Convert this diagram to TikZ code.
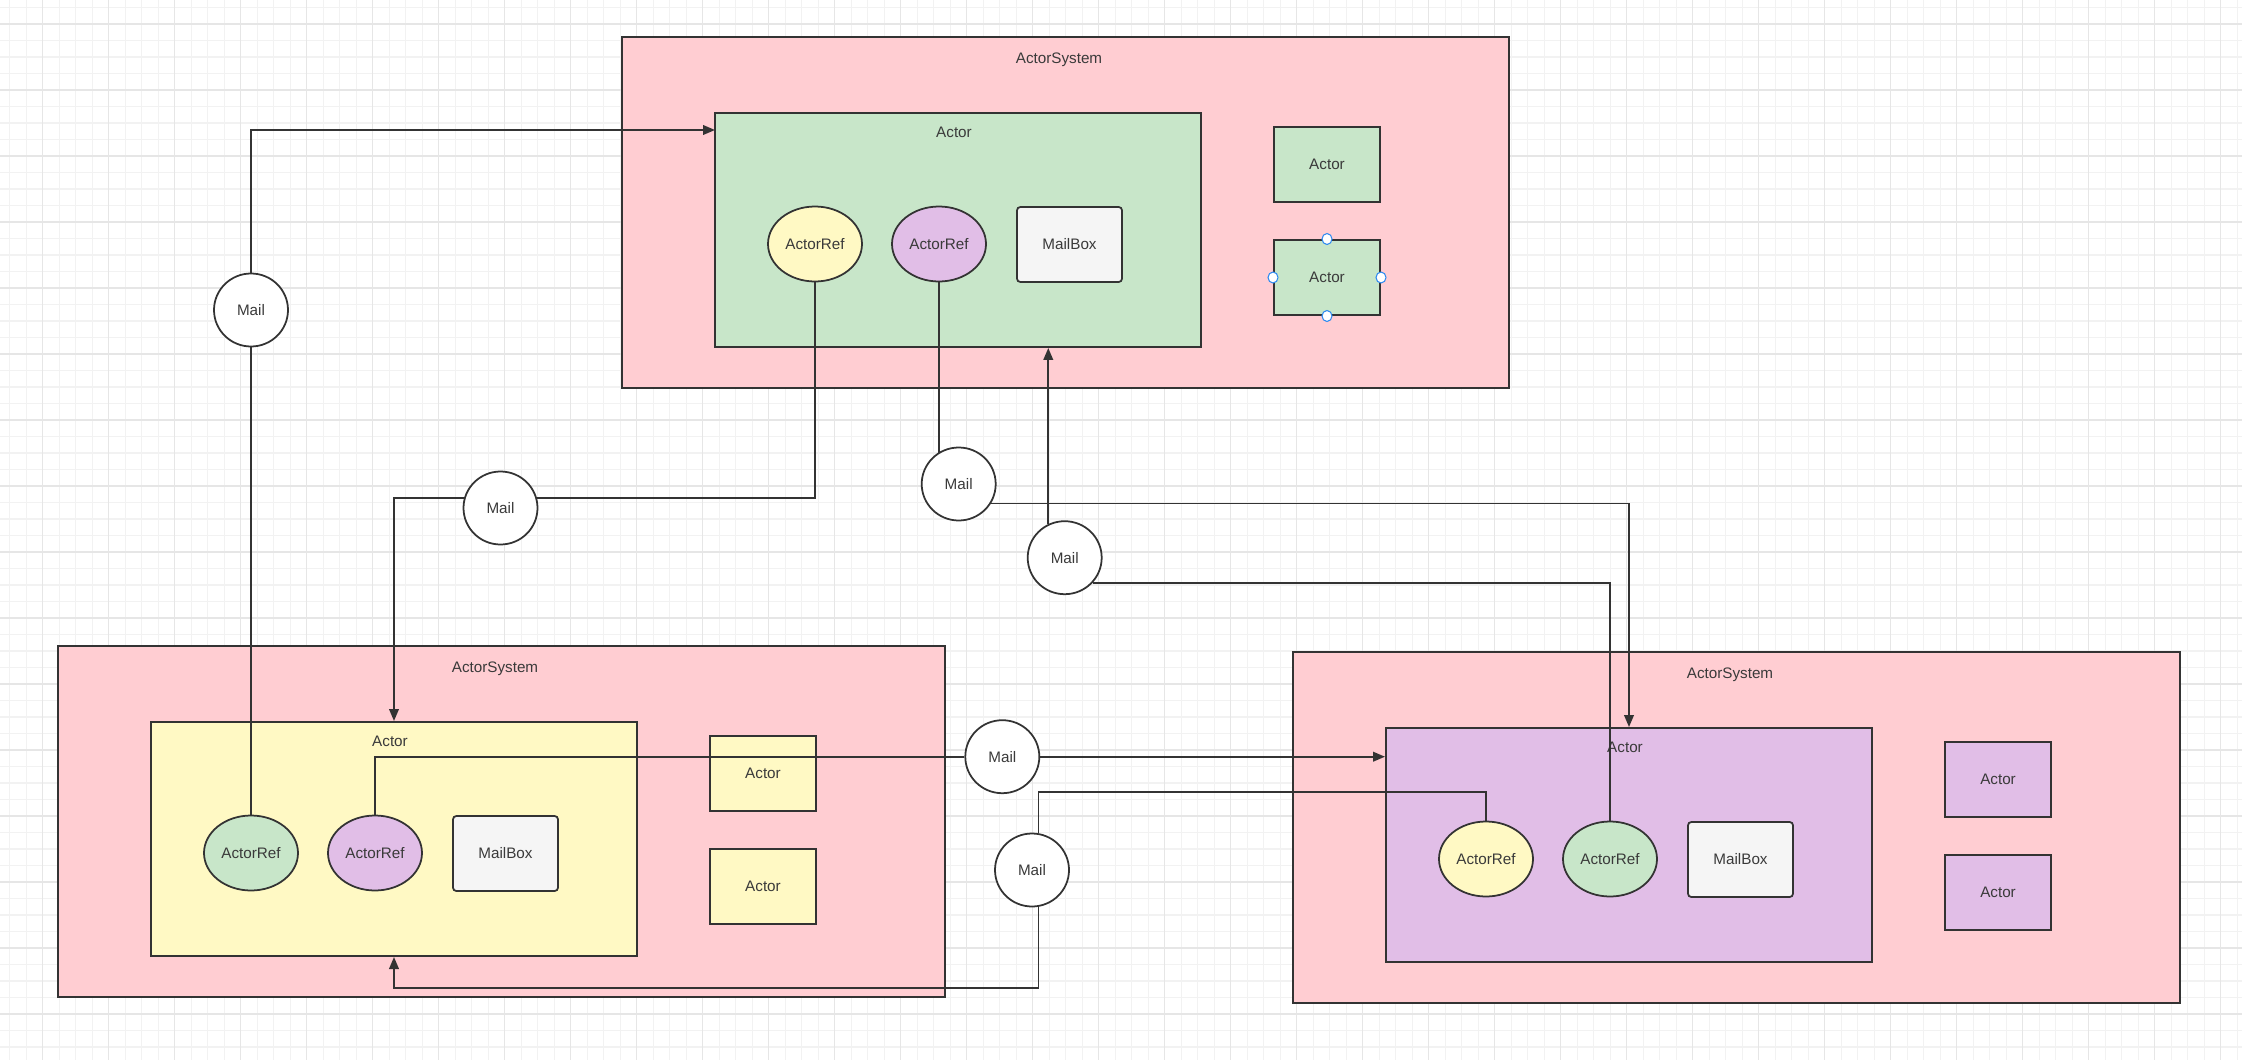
\documentclass[tikz,border=0pt]{standalone}
\usepackage{fontspec}
\setmainfont{Liberation Sans}
\usepackage{xcolor}
\usepackage{tikz}
\usetikzlibrary{arrows.meta,shapes.geometric}
\definecolor{edge}      {HTML}{333333}
\definecolor{ink}       {HTML}{3A3A3A}
\definecolor{sysfill}   {HTML}{FFCDD2}
\definecolor{greenfill} {HTML}{C8E6C9}
\definecolor{yellowfill}{HTML}{FFF9C4}
\definecolor{purplefill}{HTML}{E1BEE7}
\definecolor{boxfill}   {HTML}{F5F5F5}
\definecolor{gridminor} {HTML}{F2F2F2}
\definecolor{gridmajor} {HTML}{E6E6E6}
\definecolor{handle}    {HTML}{2F8AF0}

\begin{document}
\begin{tikzpicture}[x=0.3mm,y=-0.3mm,font=\fontsize{13}{15}\selectfont,
  txt/.style={text=ink,inner sep=0pt},
  sysbox/.style={draw=edge,line width=1.7pt,fill=sysfill,inner sep=0pt,
    minimum width=887*\unitpx,minimum height=351*\unitpx},
  actbox/.style={draw=edge,line width=1.7pt,inner sep=0pt,
    minimum width=486*\unitpx,minimum height=234*\unitpx},
  smallact/.style={draw=edge,line width=1.7pt,text=ink,inner sep=0pt,
    minimum width=106*\unitpx,minimum height=75*\unitpx},
  refnode/.style={ellipse,draw=edge,line width=1.5pt,text=ink,inner sep=0pt,
    minimum width=94*\unitpx,minimum height=75*\unitpx},
  mailbox/.style={draw=edge,line width=1.5pt,fill=boxfill,text=ink,inner sep=0pt,
    rounded corners=1mm,minimum width=105*\unitpx,minimum height=75*\unitpx},
  mail/.style={ellipse,draw=edge,line width=1.5pt,fill=white,text=ink,inner sep=0pt,
    minimum width=74*\unitpx,minimum height=73*\unitpx},
  handlept/.style={ellipse,draw=handle,line width=0.9pt,fill=white,inner sep=0pt,
    minimum width=10*\unitpx,minimum height=11*\unitpx},
  conn/.style={draw=edge,line width=1.5pt},
  tip/.style={conn,-{Triangle[length=3.6mm,width=2.9mm]}}]
  \def\unitpx{0.3mm}
  \def\system#1#2#3#4#5#6{%
    \node[sysbox] (#1sys) at (#2+443.5,#3+175.5) {};
    \node[txt] (#1syslbl) at (#2+437,#3+23) {ActorSystem};
    \node[actbox,fill=#4] (#1act) at (#2+336,#3+193) {};
    \node[txt] (#1actlbl) at (#2+332,#3+95) {Actor};
    \node[refnode,fill=#5] (#1ref1) at (#2+193,#3+207) {ActorRef};
    \node[refnode,fill=#6] (#1ref2) at (#2+317,#3+207) {ActorRef};
    \node[mailbox] (#1box) at (#2+447.5,#3+207.5) {MailBox};
    \node[smallact,fill=#4] (#1a1) at (#2+705,#3+127.5) {Actor};
    \node[smallact,fill=#4] (#1a2) at (#2+705,#3+240.5) {Actor};}

  \fill[white] (0,0) rectangle (2242,1060);
  \useasboundingbox (0,0) rectangle (2242,1060);
  \foreach \i in {0,...,135}{\draw[gridminor,line width=0.9pt] ({9.7+16.5*\i},0) -- ++(0,1060);}
  \foreach \j in {0,...,63}{\draw[gridminor,line width=0.9pt] (0,{7.5+16.5*\j}) -- ++(2242,0);}
  \foreach \i in {0,...,33}{\draw[gridmajor,line width=1pt] ({42.7+66*\i},0) -- ++(0,1060);}
  \foreach \j in {0,...,15}{\draw[gridmajor,line width=1pt] (0,{24+66*\j}) -- ++(2242,0);}

  \system{t}{622}{37}{greenfill}{yellowfill}{purplefill}
  \system{bl}{58}{646}{yellowfill}{greenfill}{purplefill}
  \system{br}{1293}{652}{purplefill}{yellowfill}{greenfill}
  \foreach \a in {north,south,east,west}{\node[handlept] (th\a) at (ta2.\a) {};}

  \node[mail] (m1) at (251,310) {Mail};
  \node[mail] (m2) at (500.5,508) {Mail};
  \node[mail] (m3) at (958.7,484) {Mail};
  \node[mail] (m4) at (1064.7,557.7) {Mail};
  \node[mail] (m5) at (1002.3,756.7) {Mail};
  \node[mail] (m6) at (1032,870) {Mail};
  \coordinate (tin) at (715,130);

  \draw[conn] (blref1.north) -- (m1.south);
  \draw[tip] (m1.north) |- (tin);
  \draw[conn] (tref1.south) |- (m2.15);
  \draw[tip] (m2.165) -| (blact.north);
  \draw[conn] (tref2.south) -- (tref2.south |- m3.123);
  \draw[tip] (m3.-31) -| (bract.north);
  \draw[conn] (brref2.north) |- (m4.-42);
  \draw[tip] (m4.116) -- (m4.116 |- tact.south);
  \draw[conn] (blref2.north) |- (m5.west);
  \draw[tip] (m5.east) -- (m5.east -| bract.west);
  \draw[conn] (brref1.north) -- ++(0,-29) -| (m6.80);
  \draw[tip] (m6.-80) -- ++(0,81) -| (blact.south);
\end{tikzpicture}
\end{document}
